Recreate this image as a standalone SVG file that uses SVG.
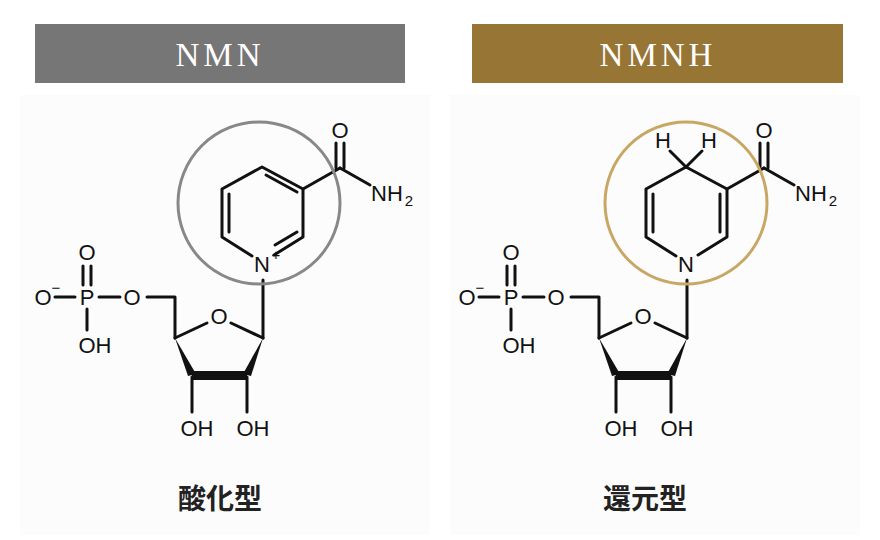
<svg xmlns="http://www.w3.org/2000/svg" width="880" height="540" viewBox="0 0 880 540">
<style>
.b{stroke:#111;stroke-width:3;fill:none;stroke-linecap:round;stroke-linejoin:round}
.t{font-family:"Liberation Sans",Arial,sans-serif;font-size:22px;fill:#111;text-anchor:middle;dominant-baseline:central}
.s{font-size:15px}
.h{font-family:"Liberation Serif","Times New Roman",serif;font-size:33px;fill:#fff;text-anchor:middle;letter-spacing:4px}
.j{font-family:"Noto Sans CJK JP",sans-serif;font-size:28px;font-weight:bold;fill:#222;text-anchor:middle}
</style>
<rect width="880" height="540" fill="#fff"/>
<rect x="20" y="95" width="410" height="440" fill="#fcfcfc"/>
<rect x="450" y="95" width="410" height="440" fill="#fcfcfc"/>
<defs>
<g id="sugar">
<line class="b" x1="263" y1="280" x2="263" y2="338"/>
<line class="b" x1="263" y1="338" x2="231" y2="323"/>
<line class="b" x1="207" y1="323" x2="175" y2="338"/>
<text class="t" x="219" y="316">O</text>
<polygon points="175,338 188,376 196,374" fill="#111"/>
<polygon points="192,371 247,371 247,380 192,380" fill="#111"/>
<polygon points="263,338 243,374 251,376" fill="#111"/>
<line class="b" x1="192" y1="377" x2="192" y2="412"/>
<line class="b" x1="247" y1="377" x2="247" y2="412"/>
<text class="t" x="197" y="428">OH</text>
<text class="t" x="253" y="428">OH</text>
<polyline class="b" points="175,338 175,297 147,297"/>
<text class="t" x="132" y="297">O</text>
<line class="b" x1="120" y1="297" x2="99" y2="297"/>
<text class="t" x="87" y="297">P</text>
<line class="b" x1="75" y1="297" x2="55" y2="297"/>
<text class="t" x="43" y="297">O</text>
<text class="t s" x="56" y="287">−</text>
<line class="b" x1="83" y1="266" x2="83" y2="285"/>
<line class="b" x1="91" y1="266" x2="91" y2="285"/>
<text class="t" x="87" y="252">O</text>
<line class="b" x1="87" y1="309" x2="87" y2="330"/>
<text class="t" x="95" y="345">OH</text>
<line class="b" x1="303" y1="189" x2="340" y2="168"/>
<line class="b" x1="336" y1="168" x2="336" y2="143"/>
<line class="b" x1="344" y1="168" x2="344" y2="143"/>
<text class="t" x="340" y="130">O</text>
<line class="b" x1="340" y1="168" x2="370" y2="185"/>
<text class="t" x="387" y="193">NH</text>
<text class="t s" x="409" y="200">2</text>
</g>
</defs>
<g id="nmn-header"><rect x="35" y="24" width="370" height="59" fill="#767676"/><text class="h" x="220" y="66">NMN</text></g>
<g id="nmnh-header"><rect x="472" y="24" width="371" height="59" fill="#977535"/><text class="h" x="658" y="66">NMNH</text></g>
<g id="nmn">
<use href="#sugar"/>
<polyline class="b" points="252,256 222,237 222,189 262,167 303,189 303,237 274,255"/>
<line class="b" x1="229" y1="194" x2="229" y2="232"/>
<line class="b" x1="266" y1="175" x2="297" y2="192"/>
<line class="b" x1="297" y1="232" x2="275" y2="245"/>
<text class="t" x="262" y="264">N</text>
<text class="t s" x="276" y="254">+</text>
<circle cx="259" cy="203" r="81" fill="none" stroke="#888" stroke-width="3"/>
<text class="j" x="220" y="509">酸化型</text>
</g>
<g id="nmnh" transform="translate(424,0)">
<use href="#sugar"/>
<polyline class="b" points="252,256 222,237 222,189 262,167 303,189 303,237 274,255"/>
<line class="b" x1="229" y1="194" x2="229" y2="232"/>
<line class="b" x1="296" y1="194" x2="296" y2="232"/>
<text class="t" x="262" y="264">N</text>
<line class="b" x1="262" y1="167" x2="246" y2="151"/>
<line class="b" x1="262" y1="167" x2="278" y2="151"/>
<text class="t" x="239" y="140">H</text>
<text class="t" x="285" y="140">H</text>
<circle cx="262" cy="203" r="81" fill="none" stroke="#c8a765" stroke-width="3"/>
<text class="j" x="221" y="509">還元型</text>
</g>
<g id="connectors"/>
</svg>
